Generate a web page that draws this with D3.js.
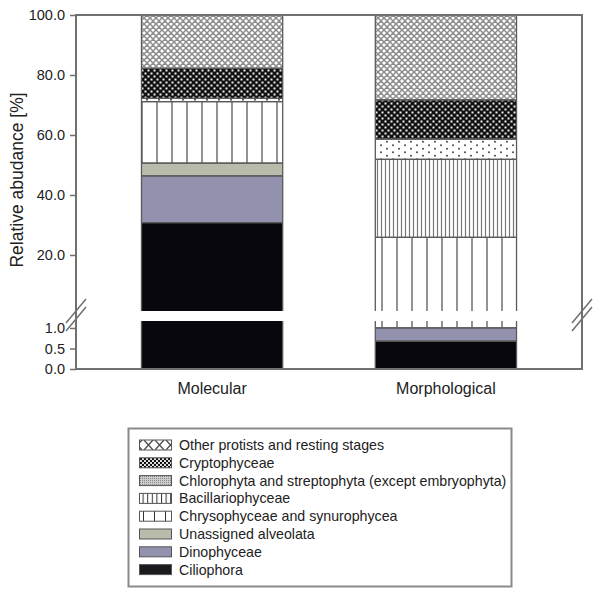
<!DOCTYPE html>
<html>
<head>
<meta charset="utf-8">
<script src="https://cdn.jsdelivr.net/npm/d3@7"></script>
<style>
  body { margin: 0; background: #fff; }
  svg { display: block; }
  text { font-family: "Liberation Sans", Arial, sans-serif; fill: #222; }
</style>
</head>
<body>
<svg id="chart" width="601" height="598"></svg>
<script>
// ---------- data ----------
const categories = ["Molecular", "Morphological"];
// stack order, bottom to top
const groups = [
  "Ciliophora",
  "Dinophyceae",
  "Unassigned alveolata",
  "Chrysophyceae and synurophycea",
  "Bacillariophyceae",
  "Chlorophyta and streptophyta (except embryophyta)",
  "Cryptophyceae",
  "Other protists and resting stages"
];
const molecular     = [30.8, 15.6, 4.2, 20.5, 0, 1.1, 10.0, 17.8];
const morphological = [0.68, 0.32, 0, 24.9, 26.0, 6.7, 13.1, 28.3];
const upperTicks = [20, 40, 60, 80, 100];
const lowerTicks = [0, 0.5, 1.0];
const legendOrder = groups.slice().reverse();

// ---------- layout ----------
const svg = d3.select("#chart");
const X0 = 76, X1 = 582;
const upperMin = 1.33, lowerMax = 1.17;
const yUp = d3.scaleLinear().domain([upperMin, 100]).range([311, 15]);
const yLo = d3.scaleLinear().domain([0, lowerMax]).range([369, 321]);
const x = d3.scaleBand().domain(categories).range([X0, X1]).paddingInner(0.396).paddingOuter(0.28);

const AX = "#707070";
const EDGE = "#5a5a5a";

// ---------- patterns ----------
const defs = svg.append("defs");
function pat(id, w, h, draw) {
  const p = defs.append("pattern").attr("id", id).attr("patternUnits", "userSpaceOnUse")
    .attr("width", w).attr("height", h);
  draw(p);
}
pat("p-other", 6, 6, p => {
  p.append("rect").attr("width", 6).attr("height", 6).attr("fill", "#fff");
  p.append("path").attr("d", "M0,0L6,6M6,0L0,6M-3,3L3,9M3,-3L9,3M3,9L9,3M-3,3L3,-3")
    .attr("stroke", "#8c8c8c").attr("stroke-width", 1.5);
});
pat("p-crypto", 6, 6, p => {
  p.append("rect").attr("width", 6).attr("height", 6).attr("fill", "#111");
  p.append("rect").attr("x", 0.5).attr("y", 0.5).attr("width", 2).attr("height", 2).attr("fill", "#eee");
  p.append("rect").attr("x", 3.5).attr("y", 3.5).attr("width", 2).attr("height", 2).attr("fill", "#eee");
});
pat("p-chloro", 12, 7, p => {
  p.append("rect").attr("width", 12).attr("height", 7).attr("fill", "#fff");
  p.append("circle").attr("cx", 3).attr("cy", 1.75).attr("r", 0.9).attr("fill", "#333");
  p.append("circle").attr("cx", 9).attr("cy", 5.25).attr("r", 0.9).attr("fill", "#333");
});
pat("p-bacil", 4, 10, p => {
  p.append("rect").attr("width", 4).attr("height", 10).attr("fill", "#fff");
  p.append("line").attr("x1", 1.5).attr("x2", 1.5).attr("y1", 0).attr("y2", 10)
    .attr("stroke", "#777").attr("stroke-width", 1.2);
});
pat("p-chryso", 15, 10, p => {
  p.append("rect").attr("width", 15).attr("height", 10).attr("fill", "#fff");
  p.append("line").attr("x1", 7).attr("x2", 7).attr("y1", 0).attr("y2", 10)
    .attr("stroke", "#777").attr("stroke-width", 1.6);
});
// legend-specific patterns
pat("l-other", 11, 10, p => {
  p.append("rect").attr("width", 11).attr("height", 10).attr("fill", "#fff");
  p.append("path").attr("d", "M1,0L10,10M10,0L1,10").attr("stroke", "#444").attr("stroke-width", 1.2);
});
pat("l-crypto", 4, 4, p => {
  p.append("rect").attr("width", 4).attr("height", 4).attr("fill", "#111");
  p.append("rect").attr("x", 0).attr("y", 0).attr("width", 2).attr("height", 2).attr("fill", "#ddd");
  p.append("rect").attr("x", 2).attr("y", 2).attr("width", 2).attr("height", 2).attr("fill", "#ddd");
});
pat("l-chloro", 2, 2, p => {
  p.append("rect").attr("width", 2).attr("height", 2).attr("fill", "#ccc");
  p.append("rect").attr("width", 1).attr("height", 1).attr("fill", "#888");
});
pat("l-bacil", 4.6, 10, p => {
  p.append("rect").attr("width", 4.6).attr("height", 10).attr("fill", "#fff");
  p.append("line").attr("x1", 0.5).attr("x2", 0.5).attr("y1", 0).attr("y2", 10)
    .attr("stroke", "#333").attr("stroke-width", 1);
});
pat("l-chryso", 11, 10, p => {
  p.append("rect").attr("width", 11).attr("height", 10).attr("fill", "#fff");
  p.append("line").attr("x1", 0.5).attr("x2", 0.5).attr("y1", 0).attr("y2", 10)
    .attr("stroke", "#333").attr("stroke-width", 1);
});

const fills = {
  "Ciliophora": "#07070d",
  "Dinophyceae": "#9291ae",
  "Unassigned alveolata": "#b9bbab",
  "Chrysophyceae and synurophycea": "url(#p-chryso)",
  "Bacillariophyceae": "url(#p-bacil)",
  "Chlorophyta and streptophyta (except embryophyta)": "url(#p-chloro)",
  "Cryptophyceae": "url(#p-crypto)",
  "Other protists and resting stages": "url(#p-other)"
};
const legendFills = {
  "Ciliophora": "#1a1a1e",
  "Dinophyceae": "#9291ae",
  "Unassigned alveolata": "#b9bbab",
  "Chrysophyceae and synurophycea": "url(#l-chryso)",
  "Bacillariophyceae": "url(#l-bacil)",
  "Chlorophyta and streptophyta (except embryophyta)": "url(#l-chloro)",
  "Cryptophyceae": "url(#l-crypto)",
  "Other protists and resting stages": "url(#l-other)"
};

// ---------- stack ----------
const rows = categories.map((c, i) => {
  const vals = i === 0 ? molecular : morphological;
  const o = { cat: c };
  groups.forEach((g, j) => o[g] = vals[j]);
  return o;
});
const series = d3.stack().keys(groups)(rows);

const bars = svg.append("g");
const edges = svg.append("g").attr("stroke", EDGE).attr("stroke-width", 1.3).attr("fill", "none");

series.forEach(s => {
  s.forEach(d => {
    const v0 = d[0], v1 = d[1];
    if (v1 - v0 <= 0) return;
    const xl = x(d.data.cat), xr = xl + x.bandwidth();
    const pieces = [];
    if (v1 > upperMin) pieces.push({ y: yUp, a: Math.max(v0, upperMin), b: v1, cutB: v0 < upperMin, cutT: false });
    if (v0 < lowerMax) pieces.push({ y: yLo, a: v0, b: Math.min(v1, lowerMax), cutB: false, cutT: v1 > lowerMax });
    pieces.forEach(p => {
      const yt = p.y(p.b), yb = p.y(p.a);
      bars.append("rect").attr("x", xl).attr("width", xr - xl)
        .attr("y", yt).attr("height", yb - yt).attr("fill", fills[s.key]);
      edges.append("line").attr("x1", xl).attr("x2", xl).attr("y1", yt).attr("y2", yb);
      edges.append("line").attr("x1", xr).attr("x2", xr).attr("y1", yt).attr("y2", yb);
      if (!p.cutT) edges.append("line").attr("x1", xl).attr("x2", xr).attr("y1", yt).attr("y2", yt);
      if (!p.cutB) edges.append("line").attr("x1", xl).attr("x2", xr).attr("y1", yb).attr("y2", yb);
    });
  });
});

// ---------- axes / frame ----------
const frame = svg.append("g").attr("stroke", AX).attr("stroke-width", 2).attr("fill", "none");
frame.append("line").attr("x1", X0).attr("x2", X1).attr("y1", 15).attr("y2", 15);
frame.append("line").attr("x1", X0).attr("x2", X1).attr("y1", 369).attr("y2", 369);
frame.append("line").attr("x1", X0).attr("x2", X0).attr("y1", 14).attr("y2", 370);
frame.append("line").attr("x1", X1).attr("x2", X1).attr("y1", 14).attr("y2", 370);

function styleAxis(g) {
  g.select(".domain").remove();
  g.selectAll(".tick line").attr("stroke", AX).attr("stroke-width", 1.5);
  g.selectAll(".tick text").attr("font-size", 14.5).attr("fill", "#222")
    .attr("font-family", "Liberation Sans, Arial, sans-serif");
}
svg.append("g").attr("transform", `translate(${X0},0)`)
  .call(d3.axisLeft(yUp).tickValues(upperTicks).tickFormat(d3.format(".1f")).tickSize(6).tickPadding(5))
  .call(styleAxis);
svg.append("g").attr("transform", `translate(${X0},0)`)
  .call(d3.axisLeft(yLo).tickValues(lowerTicks).tickFormat(d3.format(".1f")).tickSize(6).tickPadding(5))
  .call(styleAxis);

// break marks
const brk = svg.append("g").attr("stroke", AX).attr("stroke-width", 1.5);
[X0, X1].forEach(ax => {
  [311, 319].forEach(yc => {
    brk.append("line").attr("x1", ax - 10).attr("y1", yc + 12).attr("x2", ax + 10).attr("y2", yc - 12);
  });
});

// category labels
svg.append("g").selectAll("text").data(categories).join("text")
  .attr("x", d => x(d) + x.bandwidth() / 2).attr("y", 394)
  .attr("text-anchor", "middle").attr("font-size", 16).text(d => d);

// y title
svg.append("text").attr("transform", "translate(23,180) rotate(-90)")
  .attr("text-anchor", "middle").attr("font-size", 17.5).text("Relative abudance [%]");

// ---------- legend ----------
const lg = svg.append("g");
lg.append("rect").attr("x", 128.5).attr("y", 428.5).attr("width", 383).attr("height", 158)
  .attr("fill", "#fff").attr("stroke", "#8a8a8a").attr("stroke-width", 2);
legendOrder.forEach((g, i) => {
  const cy = 445 + i * 17.8;
  lg.append("rect").attr("x", 139.5).attr("y", cy - 5).attr("width", 32).attr("height", 10)
    .attr("fill", legendFills[g]).attr("stroke", "#555").attr("stroke-width", 1);
  lg.append("text").attr("x", 179).attr("y", cy + 5).attr("font-size", 14.2).text(g);
});
</script>
</body>
</html>
